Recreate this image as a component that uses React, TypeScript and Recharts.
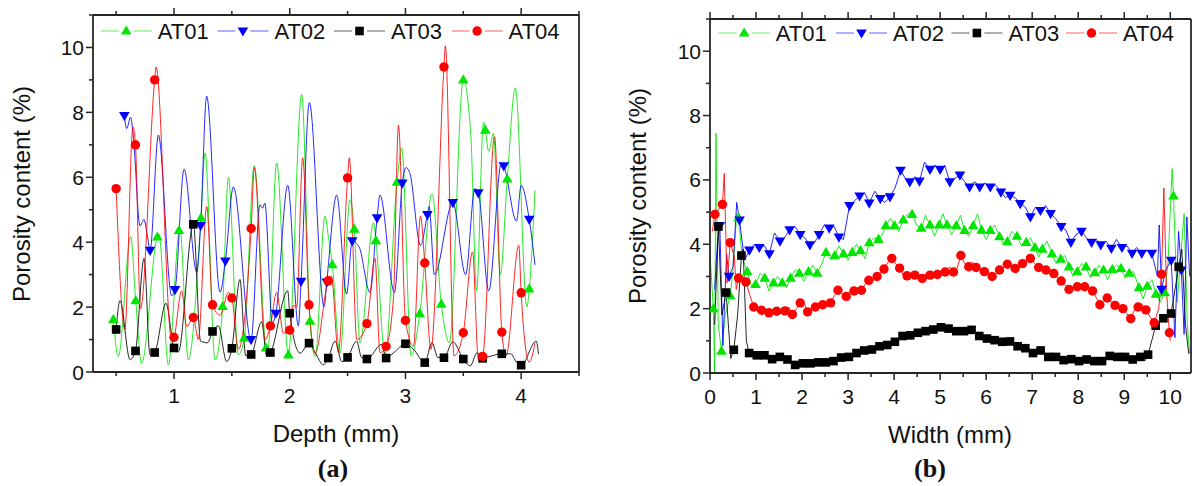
import React from "react";
import { ComposedChart, Line, Scatter, XAxis, YAxis } from "recharts";

type Pt = [number, number];

// ---------- (a) Depth profiles: [depth mm, porosity %] ----------
// marker points
const depthAT01Marks: Pt[] = [[0.476,1.62],[0.669,2.2],[0.856,4.16],[1.043,4.36],[1.233,4.75],[1.42,2.02],[1.607,1.05],[1.795,0.74],[1.988,0.53],[2.175,1.57],[2.368,3.31],[2.558,4.4],[2.745,4.05],[2.927,5.85],[3.124,1.8],[3.31,2.09],[3.5,9.0],[3.69,7.45],[3.88,5.95],[4.07,2.56]];
const depthAT02Marks: Pt[] = [[0.571,7.9],[0.793,3.75],[1.009,2.54],[1.23,4.51],[1.444,3.42],[1.666,1.0],[1.88,1.81],[2.098,2.79],[2.32,2.77],[2.54,4.04],[2.755,4.75],[2.973,5.82],[3.19,4.85],[3.41,5.22],[3.63,5.52],[3.85,6.35],[4.07,4.7]];
const depthAT03Marks: Pt[] = [[0.5,1.31],[0.667,0.65],[0.833,0.6],[1.0,0.74],[1.167,4.55],[1.333,1.25],[1.5,0.73],[1.667,0.54],[1.833,0.6],[2.0,1.81],[2.167,0.89],[2.333,0.43],[2.5,0.45],[2.667,0.4],[2.833,0.43],[3.0,0.87],[3.167,0.29],[3.333,0.44],[3.5,0.4],[3.667,0.42],[3.833,0.56],[4.0,0.21]];
const depthAT04Marks: Pt[] = [[0.5,5.65],[0.667,7.0],[0.833,9.0],[1.0,1.07],[1.167,1.68],[1.333,2.07],[1.5,2.28],[1.667,4.42],[1.833,1.42],[2.0,1.29],[2.167,2.07],[2.333,2.81],[2.5,5.98],[2.667,1.49],[2.833,0.79],[3.0,1.59],[3.167,3.36],[3.333,9.4],[3.5,1.21],[3.667,0.48],[3.833,1.23],[4.0,2.44]];
// extra curve points between markers (peaks / troughs)
const depthAT01Curve: Pt[] = [[0.519,0.48],[0.626,4.17],[0.72,0.27],[0.87,4.25],[0.951,0.22],[1.05,4.45],[1.124,0.37],[1.268,6.75],[1.355,0.37],[1.47,6.0],[1.556,0.53],[1.694,6.36],[1.81,0.6],[1.887,6.44],[2.104,8.55],[2.22,0.48],[2.305,4.8],[2.335,4.15],[2.435,0.58],[2.521,5.3],[2.607,0.9],[2.725,4.6],[2.824,0.53],[2.968,6.9],[3.05,0.5],[3.23,5.5],[3.38,0.9],[3.565,7.3],[3.615,2.5],[3.675,7.7],[3.72,6.8],[3.76,7.35],[3.82,3.0],[3.95,8.75],[4.05,2.0],[4.12,5.6]];
const depthAT02Curve: Pt[] = [[0.591,7.5],[0.625,7.85],[0.65,7.2],[0.706,4.5],[0.74,4.7],[0.77,4.2],[0.865,7.3],[0.98,2.35],[1.087,6.25],[1.196,3.08],[1.282,8.5],[1.398,2.46],[1.513,5.7],[1.743,5.15],[1.765,5.05],[1.785,5.2],[1.85,1.5],[1.983,5.75],[2.075,1.42],[2.17,8.3],[2.297,2.0],[2.406,5.45],[2.492,2.4],[2.6,3.85],[2.694,2.45],[2.78,5.45],[2.905,2.45],[3.005,6.3],[3.04,6.1],[3.13,3.9],[3.205,5.1],[3.25,3.0],[3.52,3.0],[3.6,5.65],[3.72,2.5],[3.83,6.45],[3.96,4.65],[4.0,5.75],[4.12,3.3]];
const depthAT03Curve: Pt[] = [[0.533,2.2],[0.62,0.38],[0.741,3.5],[0.793,0.53],[0.931,2.12],[1.037,0.62],[1.23,0.95],[1.29,0.9],[1.383,1.42],[1.455,0.32],[1.57,2.85],[1.62,0.5],[1.758,1.55],[1.8,0.5],[1.983,2.5],[2.09,0.58],[2.22,0.6],[2.291,0.22],[2.392,0.95],[2.45,0.32],[2.579,0.95],[2.62,0.45],[2.795,0.85],[2.9,0.6],[3.07,0.7],[3.23,0.9],[3.28,0.45],[3.41,0.93],[3.56,0.19],[3.62,0.6],[3.73,0.48],[3.91,0.56],[3.96,0.3],[4.13,0.95],[4.15,0.55]];
const depthAT04Curve: Pt[] = [[0.575,1.3],[0.645,7.55],[0.71,1.95],[0.845,9.4],[0.98,0.98],[1.066,2.5],[1.11,1.4],[1.21,1.0],[1.283,5.1],[1.4,1.75],[1.47,2.45],[1.556,0.7],[1.694,6.3],[1.787,1.0],[1.887,2.45],[1.945,1.2],[2.03,2.05],[2.06,2.0],[2.112,6.6],[2.22,0.58],[2.36,2.95],[2.42,0.6],[2.515,6.6],[2.58,1.0],[2.737,3.5],[2.78,0.6],[2.896,2.25],[2.94,7.6],[3.07,0.8],[3.13,4.8],[3.22,0.7],[3.345,10.05],[3.42,0.5],[3.58,3.7],[3.63,0.4],[3.77,7.25],[3.87,0.5],[3.98,3.9],[4.07,0.3],[4.12,0.9]];

// ---------- (b) Width profiles: [width mm, porosity %] ----------
const widthAT01Marks: Pt[] = [[0.072,2.0],[0.25,0.68],[0.44,2.4],[0.62,4.83],[0.81,3.15],[0.99,2.75],[1.19,2.95],[1.38,2.8],[1.57,2.8],[1.75,2.95],[1.94,3.1],[2.14,3.15],[2.33,3.1],[2.52,3.75],[2.71,3.65],[2.9,3.7],[3.09,3.75],[3.27,3.8],[3.46,4.05],[3.66,4.15],[3.82,4.58],[4.01,4.58],[4.2,4.76],[4.39,4.93],[4.59,4.5],[4.78,4.6],[4.98,4.6],[5.15,4.6],[5.35,4.58],[5.53,4.43],[5.72,4.58],[5.9,4.44],[6.09,4.43],[6.29,4.24],[6.46,4.08],[6.67,4.25],[6.87,4.06],[7.06,3.9],[7.22,3.85],[7.43,3.7],[7.62,3.54],[7.8,3.3],[7.98,3.15],[8.17,3.3],[8.36,3.12],[8.55,3.2],[8.74,3.22],[8.93,3.25],[9.11,3.1],[9.32,2.65],[9.5,2.7],[9.69,2.45],[9.88,2.5],[10.07,5.5]];
const widthAT02Marks: Pt[] = [[0.214,4.58],[0.413,3.0],[0.641,4.75],[0.856,3.82],[1.07,3.9],[1.29,3.7],[1.52,4.1],[1.73,4.45],[1.96,4.3],[2.17,3.98],[2.37,4.3],[2.59,4.5],[2.8,4.22],[3.03,5.2],[3.25,5.5],[3.46,5.28],[3.7,5.42],[3.91,5.47],[4.14,6.3],[4.34,5.94],[4.55,5.96],[4.78,6.33],[5.0,6.33],[5.21,5.94],[5.43,6.15],[5.64,5.78],[5.86,5.78],[6.09,5.78],[6.32,5.62],[6.52,5.52],[6.74,5.26],[6.96,4.85],[7.18,5.05],[7.4,4.95],[7.63,4.55],[7.84,4.06],[8.07,4.4],[8.29,4.06],[8.49,3.98],[8.72,3.87],[8.95,3.9],[9.17,3.72],[9.38,3.72],[9.6,3.72],[9.81,2.6],[10.02,3.5],[10.24,3.2]];
const widthAT03Marks: Pt[] = [[0.183,4.55],[0.35,2.5],[0.517,0.72],[0.683,3.65],[0.85,0.62],[1.017,0.55],[1.183,0.55],[1.35,0.43],[1.517,0.5],[1.683,0.42],[1.85,0.25],[2.017,0.3],[2.183,0.3],[2.35,0.33],[2.517,0.33],[2.683,0.37],[2.85,0.48],[3.017,0.5],[3.183,0.62],[3.35,0.7],[3.517,0.73],[3.683,0.83],[3.85,0.87],[4.017,0.97],[4.183,1.15],[4.35,1.17],[4.517,1.25],[4.683,1.3],[4.85,1.35],[5.017,1.42],[5.183,1.38],[5.35,1.3],[5.517,1.3],[5.683,1.34],[5.85,1.15],[6.017,1.07],[6.183,1.02],[6.35,0.97],[6.517,0.98],[6.683,0.83],[6.85,0.77],[7.017,0.62],[7.183,0.7],[7.35,0.5],[7.517,0.5],[7.683,0.4],[7.85,0.43],[8.017,0.37],[8.183,0.42],[8.35,0.37],[8.517,0.37],[8.683,0.53],[8.85,0.5],[9.017,0.5],[9.183,0.42],[9.35,0.5],[9.517,0.57],[9.683,1.47],[9.85,1.7],[10.017,1.85],[10.183,3.3]];
const widthAT04Marks: Pt[] = [[0.107,4.93],[0.27,5.24],[0.44,4.05],[0.62,2.95],[0.78,2.83],[0.95,2.05],[1.12,1.95],[1.28,1.87],[1.45,1.92],[1.63,1.93],[1.79,1.82],[1.96,2.18],[2.12,1.9],[2.29,2.05],[2.45,2.12],[2.62,2.18],[2.78,2.57],[2.96,2.38],[3.13,2.55],[3.29,2.57],[3.45,2.88],[3.63,3.0],[3.78,3.23],[3.95,3.56],[4.12,3.26],[4.28,3.02],[4.45,3.04],[4.61,2.94],[4.78,3.04],[4.94,3.06],[5.11,3.14],[5.29,3.14],[5.45,3.65],[5.62,3.3],[5.78,3.28],[5.96,3.15],[6.13,3.0],[6.29,3.2],[6.46,3.38],[6.63,3.25],[6.79,3.4],[6.96,3.56],[7.14,3.28],[7.3,3.2],[7.47,3.09],[7.63,2.86],[7.8,2.6],[7.98,2.68],[8.14,2.68],[8.31,2.55],[8.47,2.12],[8.63,2.33],[8.8,2.1],[8.97,2.0],[9.14,1.69],[9.3,2.05],[9.47,1.96],[9.65,1.56],[9.81,3.07],[9.98,1.25]];
const widthAT01Curve: Pt[] = [[0.0,3.7],[0.1,0.0],[0.13,7.45],[0.18,1.5],[0.33,1.8],[0.5,3.2],[0.58,4.95],[0.7,3.6],[0.9,2.7],[1.09,3.1],[1.28,2.55],[1.47,3.0],[1.66,2.65],[1.85,3.2],[2.04,2.85],[2.24,3.35],[2.43,3.4],[2.62,3.55],[2.8,3.95],[3.0,3.5],[3.18,4.0],[3.37,3.55],[3.56,4.2],[3.74,4.3],[3.92,4.8],[4.1,4.4],[4.3,4.95],[4.49,4.6],[4.68,4.9],[4.88,4.25],[5.06,4.95],[5.25,4.3],[5.44,4.9],[5.62,4.25],[5.81,4.95],[6.0,4.15],[6.19,4.6],[6.38,4.0],[6.56,4.4],[6.77,3.95],[6.96,4.2],[7.14,3.6],[7.32,4.1],[7.52,3.4],[7.71,3.65],[7.89,3.0],[8.07,3.4],[8.26,2.95],[8.45,3.35],[8.64,2.9],[8.83,3.35],[9.02,2.95],[9.2,3.15],[9.41,2.3],[9.6,2.9],[9.78,2.2],[9.95,3.4],[10.04,6.35],[10.15,2.2],[10.3,4.95],[10.37,1.5],[10.42,0.6]];
const widthAT02Curve: Pt[] = [[0.1,2.6],[0.16,4.0],[0.28,0.85],[0.36,3.7],[0.5,3.3],[0.58,5.3],[0.75,3.5],[0.96,4.0],[1.18,3.95],[1.4,4.35],[1.62,4.2],[1.85,4.55],[2.06,4.2],[2.27,4.05],[2.48,4.6],[2.7,4.55],[2.9,4.15],[3.14,5.35],[3.36,5.6],[3.58,5.65],[3.8,5.3],[4.02,5.75],[4.24,6.05],[4.45,6.1],[4.66,6.55],[4.89,6.45],[5.1,6.45],[5.32,6.05],[5.53,5.95],[5.75,5.95],[5.97,5.9],[6.2,5.85],[6.42,5.45],[6.63,5.45],[6.85,5.15],[7.07,5.15],[7.29,5.2],[7.51,4.8],[7.73,4.45],[7.95,4.3],[8.18,4.2],[8.39,4.15],[8.6,4.1],[8.83,4.15],[9.06,3.95],[9.27,3.9],[9.49,3.8],[9.72,3.0],[9.76,4.6],[9.9,3.2],[10.1,1.1],[10.18,4.4],[10.3,1.2],[10.36,4.85],[10.42,3.0]];
const widthAT03Curve: Pt[] = [[0.1,1.5],[0.26,1.8],[0.45,0.45],[0.6,1.8],[0.72,3.85],[0.79,1.0],[9.45,0.38],[10.25,3.85],[10.33,1.5],[10.4,0.6]];
const widthAT04Curve: Pt[] = [[0.05,4.4],[0.31,6.2],[0.37,2.8],[0.53,3.6],[0.57,2.6],[0.7,3.0],[0.87,2.4],[1.04,2.0],[1.2,1.9],[1.37,2.0],[1.54,1.85],[1.71,2.05],[1.88,2.0],[2.04,2.2],[2.2,2.0],[2.37,2.2],[2.54,2.25],[2.7,2.4],[2.87,2.45],[3.04,2.55],[3.21,2.5],[3.37,2.75],[3.54,2.85],[3.7,3.1],[3.87,3.45],[4.03,3.4],[4.2,3.05],[4.36,3.1],[4.53,3.0],[4.7,3.1],[4.86,2.95],[5.03,3.2],[5.2,3.3],[5.37,3.25],[5.53,3.4],[5.7,3.45],[5.87,3.2],[6.05,3.1],[6.21,3.1],[6.38,3.3],[6.55,3.35],[6.71,3.3],[6.88,3.5],[7.05,3.4],[7.22,3.25],[7.38,3.15],[7.55,2.95],[7.72,2.75],[7.89,2.65],[8.06,2.75],[8.22,2.6],[8.39,2.35],[8.55,2.25],[8.72,2.2],[8.88,2.05],[9.05,1.85],[9.22,1.95],[9.38,2.15],[9.56,1.75],[9.75,2.0],[9.86,5.75],[9.92,2.5],[10.0,1.0]];

// ---------- series / ticks ----------
const seriesNames = ["AT01", "AT02", "AT03", "AT04"];
const seriesColors = ["#00e600", "#0000ff", "#000000", "#ff0000"];
const seriesShapes = ["up", "down", "square", "circle"];

const depthTicks = [0.5, 1, 1.5, 2, 2.5, 3, 3.5, 4, 4.5];
const depthLabels = [1, 2, 3, 4];
const widthTicks = [0, 0.5, 1, 1.5, 2, 2.5, 3, 3.5, 4, 4.5, 5, 5.5, 6, 6.5, 7, 7.5, 8, 8.5, 9, 9.5, 10];
const widthLabels = [0, 1, 2, 3, 4, 5, 6, 7, 8, 9, 10];
const porosityTicks = [0, 1, 2, 3, 4, 5, 6, 7, 8, 9, 10, 11];
const porosityLabels = [0, 2, 4, 6, 8, 10];

const FONT = '"Liberation Sans", Arial, Helvetica, sans-serif';
const SERIF = '"Liberation Serif", "Times New Roman", serif';
const AXIS = "#262626";

const toXY = (pts: Pt[]) => pts.map(([x, y]) => ({ x, y }));
const joinLine = (marks: Pt[], curve: Pt[]) =>
  toXY([...marks, ...curve].sort((a, b) => a[0] - b[0]));

const Marker = ({ kind, cx, cy, color }: any) => {
  if (cx == null || cy == null) return null;
  if (kind === "up")
    return <path d={`M${cx},${cy - 5.6}L${cx + 5.3},${cy + 3.6}L${cx - 5.3},${cy + 3.6}Z`} fill={color} />;
  if (kind === "down")
    return <path d={`M${cx},${cy + 5.6}L${cx + 5.3},${cy - 3.6}L${cx - 5.3},${cy - 3.6}Z`} fill={color} />;
  if (kind === "square")
    return <rect x={cx - 4.3} y={cy - 4.3} width={8.6} height={8.6} fill={color} />;
  return <circle cx={cx} cy={cy} r={4.7} fill={color} />;
};

const BottomTick = ({ x, y, payload, labels }: any) => {
  const v = payload.value;
  const major = labels.includes(v);
  return (
    <g>
      <line x1={x} y1={y} x2={x} y2={y + (major ? 7 : 4)} stroke={AXIS} strokeWidth={1.5} />
      {major && (
        <text x={x} y={y + 31} textAnchor="middle" fontSize={21} fontFamily={FONT} fill="#111">
          {v}
        </text>
      )}
    </g>
  );
};

const TopTick = ({ x, y, payload, labels }: any) => {
  const major = labels.includes(payload.value);
  return <line x1={x} y1={y} x2={x} y2={y - (major ? 7 : 4)} stroke={AXIS} strokeWidth={1.5} />;
};

const LeftTick = ({ x, y, payload }: any) => {
  const v = payload.value;
  const major = porosityLabels.includes(v);
  return (
    <g>
      <line x1={x} y1={y} x2={x - (major ? 7 : 4)} y2={y} stroke={AXIS} strokeWidth={1.5} />
      {major && (
        <text x={x - 9} y={y} dy="0.36em" textAnchor="end" fontSize={21} fontFamily={FONT} fill="#111">
          {v}
        </text>
      )}
    </g>
  );
};

const ProfileChart = ({ width, height, margin, domain, ticks, labels, marks, curves, curveType }: any) => (
  <ComposedChart width={width} height={height} margin={margin}>
    <XAxis
      xAxisId="b" type="number" dataKey="x" domain={domain} ticks={ticks} interval={0}
      allowDataOverflow height={40} tickLine={false} tickSize={0} tickMargin={0}
      axisLine={{ stroke: AXIS, strokeWidth: 1.8 }}
      tick={(p: any) => <BottomTick x={p.x} y={p.y} payload={p.payload} labels={labels} />}
    />
    <XAxis
      xAxisId="t" orientation="top" type="number" dataKey="x" domain={domain} ticks={ticks} interval={0}
      allowDataOverflow height={10} tickLine={false} tickSize={0} tickMargin={0}
      axisLine={{ stroke: AXIS, strokeWidth: 1.8 }}
      tick={(p: any) => <TopTick x={p.x} y={p.y} payload={p.payload} labels={labels} />}
    />
    <YAxis
      yAxisId="l" type="number" dataKey="y" domain={[0, 11]} ticks={porosityTicks} interval={0}
      allowDataOverflow width={60} tickLine={false} tickSize={0} tickMargin={0}
      axisLine={{ stroke: AXIS, strokeWidth: 1.8 }}
      tick={(p: any) => <LeftTick x={p.x} y={p.y} payload={p.payload} />}
    />
    <YAxis
      yAxisId="r" orientation="right" type="number" dataKey="y" domain={[0, 11]} width={1}
      allowDataOverflow tick={false} tickLine={false} axisLine={{ stroke: AXIS, strokeWidth: 1.8 }}
    />
    {seriesNames.map((name, i) => (
      <Line
        key={`line-${name}`} xAxisId="b" yAxisId="l" data={joinLine(marks[i], curves[i])} dataKey="y"
        type={curveType} stroke={seriesColors[i]} strokeWidth={1} dot={false}
        isAnimationActive={false} strokeOpacity={0.85}
      />
    ))}
    {seriesNames.map((name, i) => (
      <Scatter
        key={`mark-${name}`} xAxisId="b" yAxisId="l" data={toXY(marks[i])} dataKey="y"
        isAnimationActive={false}
        shape={(p: any) => <Marker kind={seriesShapes[i]} cx={p.cx} cy={p.cy} color={seriesColors[i]} />}
      />
    ))}
  </ComposedChart>
);

const LegendRow = ({ xs, y }: { xs: number[]; y: number }) => (
  <g>
    {seriesNames.map((name, i) => (
      <g key={name}>
        <line x1={xs[i]} y1={y} x2={xs[i] + 18} y2={y} stroke={seriesColors[i]} strokeOpacity={0.45} strokeWidth={1.4} />
        <line x1={xs[i] + 33} y1={y} x2={xs[i] + 51} y2={y} stroke={seriesColors[i]} strokeOpacity={0.45} strokeWidth={1.4} />
        <Marker kind={seriesShapes[i]} cx={xs[i] + 25.5} cy={y} color={seriesColors[i]} />
        <text x={xs[i] + 57} y={y + 8} fontSize={22} fontFamily={FONT} fill="#111">
          {name}
        </text>
      </g>
    ))}
  </g>
);

export default function App() {
  return (
    <div style={{ position: "absolute", left: 0, top: 0, width: 1192, height: 486, background: "#fff", overflow: "hidden" }}>
      <div style={{ position: "absolute", left: 0, top: 0 }}>
        <ProfileChart
          width={600} height={486} margin={{ top: 5, left: 33, right: 20, bottom: 74 }}
          domain={[0.3, 4.5]} ticks={depthTicks} labels={depthLabels} curveType="monotone"
          marks={[depthAT01Marks, depthAT02Marks, depthAT03Marks, depthAT04Marks]}
          curves={[depthAT01Curve, depthAT02Curve, depthAT03Curve, depthAT04Curve]}
        />
      </div>
      <div style={{ position: "absolute", left: 600, top: 0 }}>
        <ProfileChart
          width={592} height={486} margin={{ top: 9, left: 50, right: 0, bottom: 73 }}
          domain={[0, 10.45]} ticks={widthTicks} labels={widthLabels} curveType="linear"
          marks={[widthAT01Marks, widthAT02Marks, widthAT03Marks, widthAT04Marks]}
          curves={[widthAT01Curve, widthAT02Curve, widthAT03Curve, widthAT04Curve]}
        />
      </div>
      <svg width={1192} height={486} style={{ position: "absolute", left: 0, top: 0, pointerEvents: "none" }}>
        <LegendRow xs={[100.7, 217.4, 334, 451.6]} y={31} />
        <LegendRow xs={[718.7, 836, 951.4, 1066]} y={33} />
        <text transform="translate(30,194) rotate(-90)" textAnchor="middle" fontSize={24} fontFamily={FONT} fill="#111">
          Porosity content (%)
        </text>
        <text transform="translate(646,196) rotate(-90)" textAnchor="middle" fontSize={24} fontFamily={FONT} fill="#111">
          Porosity content (%)
        </text>
        <text x={336} y={442} textAnchor="middle" fontSize={24} fontFamily={FONT} fill="#111">Depth (mm)</text>
        <text x={950} y={443} textAnchor="middle" fontSize={24} fontFamily={FONT} fill="#111">Width (mm)</text>
        <text x={333} y={477} textAnchor="middle" fontSize={26} fontWeight="bold" fontFamily={SERIF} fill="#111">(a)</text>
        <text x={930} y={477} textAnchor="middle" fontSize={26} fontWeight="bold" fontFamily={SERIF} fill="#111">(b)</text>
      </svg>
    </div>
  );
}
